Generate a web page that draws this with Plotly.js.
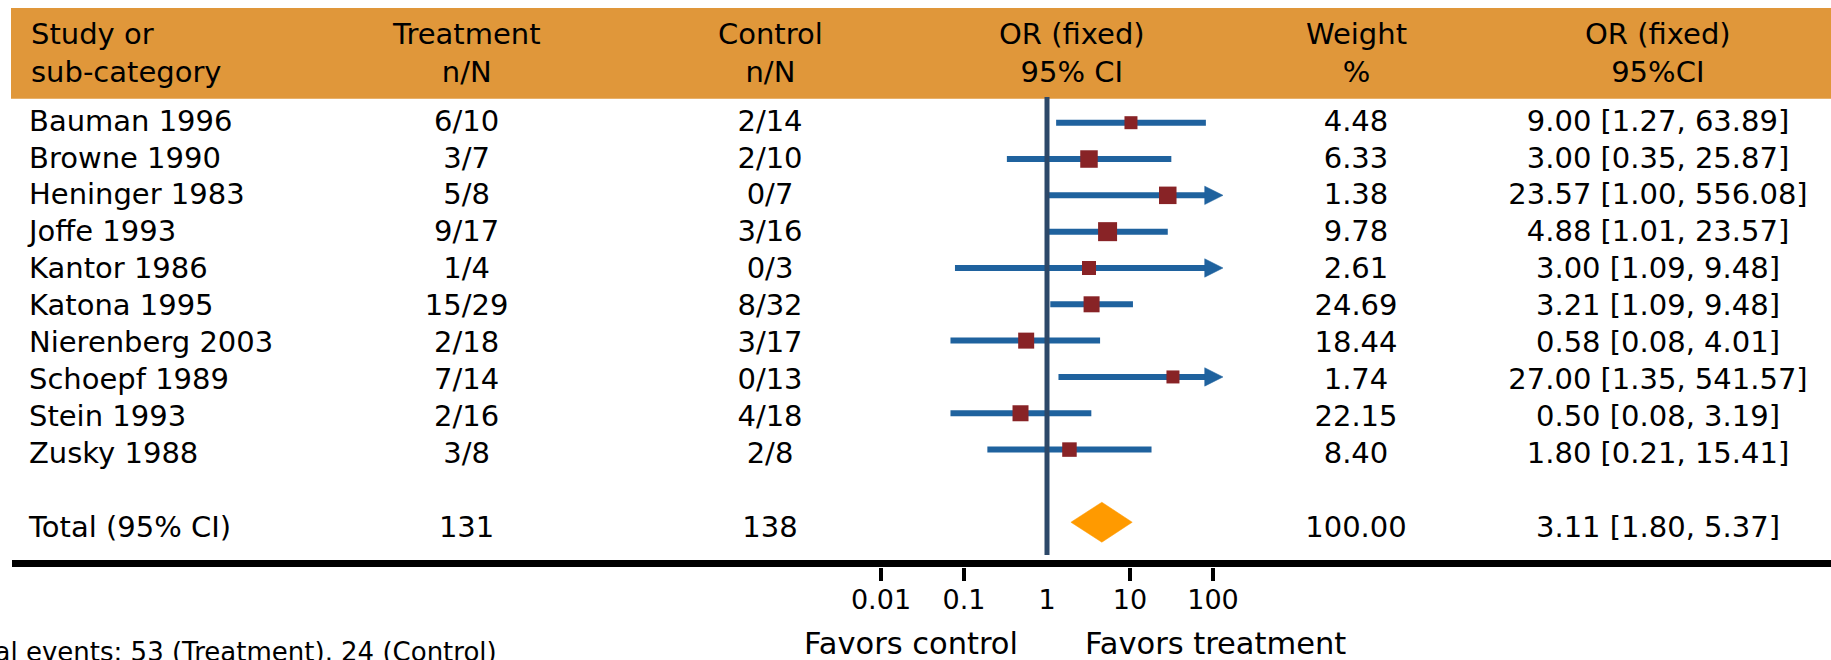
<!DOCTYPE html>
<html><head><meta charset="utf-8">
<script src="https://cdn.plot.ly/plotly-3.0.1.min.js"></script>
<style>html,body{margin:0;padding:0;background:#fff;overflow:hidden}#chart{width:1831px;height:660px}</style>
</head><body><div id="chart"></div>
<script>
// ---------------- data ----------------
const studies = ['Bauman 1996','Browne 1990','Heninger 1983','Joffe 1993','Kantor 1986','Katona 1995','Nierenberg 2003','Schoepf 1989','Stein 1993','Zusky 1988'];
const treatEvents = [6,3,5,9,1,15,2,7,2,3];
const treatTotal  = [10,7,8,17,4,29,18,14,16,8];
const ctrlEvents  = [2,2,0,3,0,8,3,0,4,2];
const ctrlTotal   = [14,10,7,16,3,32,17,13,18,8];
const weights     = [4.48,6.33,1.38,9.78,2.61,24.69,18.44,1.74,22.15,8.40];
const oddsRatio   = [9.00,3.00,23.57,4.88,3.00,3.21,0.58,27.00,0.50,1.80];
const ciLower     = [1.27,0.35,1.00,1.01,1.09,1.09,0.08,1.35,0.08,0.21];
const ciUpper     = [63.89,25.87,556.08,23.57,9.48,9.48,4.01,541.57,3.19,15.41];
// whiskers as drawn in the figure (Kantor's drawn interval is wider than printed)
const drawnLower  = [1.27,0.35,1.00,1.01,0.09,1.09,0.08,1.35,0.08,0.21];
const drawnUpper  = [63.89,25.87,556.08,23.57,150,9.48,4.01,541.57,3.19,15.41];
const totalWeight = 100.00;
const totalOR = 3.11, totalLower = 1.80, totalUpper = 5.37;
// diamond as drawn
const diamondLower = 1.87, diamondMid = 4.2, diamondUpper = 9.3;
const noEffect = 1;
const tickValues = [0.01, 0.1, 1, 10, 100];
const tickLabels = ['0.01', '0.1', '1', '10', '100'];
const tickMarkValues = [0.01, 0.1, 10, 100];
const axisMax = 100;   // whiskers beyond this are cut with an arrow

// ---------------- styles / layout constants ----------------
const W = 1831, H = 660;
const FONT = 'DejaVu Sans';
const squareSize = [13,17.5,17.5,19,14,16,16,13,16,14.5];
const colX = {study: 29, treat: 466.6, ctrl: 770, forest: 1072, weight: 1356, orci: 1658};
const textRow0 = 123.3, textPitch = 36.97;
const markRow0 = 122.7, markPitch = 36.32;
const totalRow = 11;
const refLinePad = [0.71, 0.9];
const C_LINE = '#1F629E', C_SQ = '#882326', C_V = '#2C4869', C_DIA = '#FF9A00', C_HEAD = '#E0973A';

const rows = studies.map((_, i) => i);
const fmt = v => v.toFixed(2);
const sum = a => a.reduce((s, v) => s + v, 0);

// ---------------- table text traces ----------------
function textTrace(xpos, texts, ys, pos) {
  return {type: 'scatter', mode: 'text', xaxis: 'x2', yaxis: 'y',
    x: ys.map(() => xpos), y: ys, text: texts, textposition: pos || 'middle center',
    textfont: {family: FONT, size: 29, color: '#000'}, hoverinfo: 'skip', showlegend: false, cliponaxis: false};
}
const allRows = rows.concat([totalRow]);
const traces = [
  textTrace(colX.study, studies.concat(['Total (95% CI)']), allRows, 'middle right'),
  textTrace(colX.treat, studies.map((_, i) => treatEvents[i] + '/' + treatTotal[i]).concat([String(sum(treatTotal))]), allRows),
  textTrace(colX.ctrl, studies.map((_, i) => ctrlEvents[i] + '/' + ctrlTotal[i]).concat([String(sum(ctrlTotal))]), allRows),
  textTrace(colX.weight, weights.map(fmt).concat([fmt(totalWeight)]), allRows),
  textTrace(colX.orci, studies.map((_, i) => fmt(oddsRatio[i]) + ' [' + fmt(ciLower[i]) + ', ' + fmt(ciUpper[i]) + ']')
      .concat([fmt(totalOR) + ' [' + fmt(totalLower) + ', ' + fmt(totalUpper) + ']']), allRows)
];

// ---------------- forest ----------------
const pxPerDecade = 88, onePx = 1047;
const arrowLenPx = 18.3, arrowHalfPx = 9.2;
const arrowBase = axisMax / Math.pow(10, arrowLenPx / pxPerDecade);
const lx = [], ly = [], ax = [], ay = [];
const ah = arrowHalfPx / markPitch;
rows.forEach(i => {
  const clipped = drawnUpper[i] > axisMax;
  lx.push(drawnLower[i], clipped ? arrowBase * 1.03 : drawnUpper[i], null);
  ly.push(i, i, null);
  if (clipped) {
    ax.push(arrowBase, axisMax, arrowBase, arrowBase, null);
    ay.push(i - ah, i, i + ah, i - ah, null);
  }
});
// reference line at OR = 1, drawn on the labelled axis (x3)
traces.push({type: 'scatter', mode: 'lines', xaxis: 'x3', yaxis: 'y2',
  x: [noEffect, noEffect], y: [rows[0] - refLinePad[0], totalRow + refLinePad[1]],
  line: {color: C_V, width: 5}, hoverinfo: 'skip', showlegend: false, cliponaxis: false});
traces.push({type: 'scatter', mode: 'lines', xaxis: 'x', yaxis: 'y2', x: lx, y: ly,
  line: {color: C_LINE, width: 6}, hoverinfo: 'skip', showlegend: false, connectgaps: false});
traces.push({type: 'scatter', mode: 'lines', xaxis: 'x', yaxis: 'y2', x: ax, y: ay, fill: 'toself',
  fillcolor: C_LINE, line: {color: C_LINE, width: 0.5}, hoverinfo: 'skip', showlegend: false});
traces.push({type: 'scatter', mode: 'markers', xaxis: 'x', yaxis: 'y2', x: oddsRatio, y: rows,
  marker: {symbol: 'square', size: squareSize, color: C_SQ, opacity: 1, line: {width: 0}},
  hoverinfo: 'skip', showlegend: false});
const dh = 20 / markPitch;
traces.push({type: 'scatter', mode: 'lines', xaxis: 'x', yaxis: 'y2',
  x: [diamondLower, diamondMid, diamondUpper, diamondMid, diamondLower],
  y: [totalRow, totalRow - dh, totalRow, totalRow + dh, totalRow], fill: 'toself',
  fillcolor: C_DIA, line: {color: C_DIA, width: 0.5}, hoverinfo: 'skip', showlegend: false});

// ---------------- layout ----------------
const yr = (r0, p) => [(H - r0) / p, -r0 / p];
const axisPx = 563.5;
const axisY = 1 - axisPx / H;
const hid = {visible: false, showgrid: false, zeroline: false, fixedrange: true};
const tickPxPerDecade = 83;
function head(x, text, anchor) {
  return {xref: 'paper', yref: 'paper', x: x / W, y: 1 - 52.5 / H, xanchor: anchor || 'center', yanchor: 'middle',
    align: anchor === 'left' ? 'left' : 'center', text: text, showarrow: false,
    font: {family: FONT, size: 29, color: '#000'}};
}
const layout = {
  width: W, height: H, margin: {l: 0, r: 0, t: 0, b: 0, pad: 0},
  paper_bgcolor: '#fff', plot_bgcolor: 'rgba(0,0,0,0)', showlegend: false,
  xaxis: Object.assign({}, hid, {type: 'log', domain: [0, 1], anchor: 'y2',
    range: [-onePx / pxPerDecade, (W - onePx) / pxPerDecade]}),
  xaxis2: Object.assign({}, hid, {type: 'linear', domain: [0, 1], range: [0, W], anchor: 'y', overlaying: 'x'}),
  xaxis3: {type: 'log', overlaying: 'x', anchor: 'free', position: axisY, domain: [0, 1],
    range: [-onePx / tickPxPerDecade, (W - onePx) / tickPxPerDecade],
    showline: true, linewidth: 7, linecolor: 'rgba(0,0,0,0)', ticks: '',
    tickmode: 'array', tickvals: tickValues, ticktext: tickLabels, ticklabelstandoff: 9,
    tickfont: {family: FONT, size: 27, color: '#000'},
    minor: {tickmode: 'array', tickvals: tickMarkValues, ticks: 'outside', ticklen: 13, tickwidth: 4,
      tickcolor: '#000', showgrid: false},
    showgrid: false, zeroline: false, fixedrange: true, automargin: false},
  yaxis: Object.assign({}, hid, {range: yr(textRow0, textPitch), anchor: 'x2'}),
  yaxis2: Object.assign({}, hid, {range: yr(markRow0, markPitch), anchor: 'x', overlaying: 'y'}),
  shapes: [
    {type: 'rect', xref: 'paper', yref: 'paper', x0: 11 / W, x1: 1, y0: 1 - 98.7 / H, y1: 1 - 8 / H,
      fillcolor: C_HEAD, line: {width: 0}, layer: 'below'},
    {type: 'line', xref: 'paper', yref: 'paper', x0: 12 / W, x1: 1, y0: axisY, y1: axisY,
      line: {color: '#000', width: 7}, layer: 'above'}
  ],
  annotations: [
    head(colX.study, 'Study or<br>sub-category', 'left'),
    head(colX.treat, 'Treatment<br>n/N'),
    head(colX.ctrl, 'Control<br>n/N'),
    head(colX.forest, 'OR (fixed)<br>95% CI'),
    head(colX.weight, 'Weight<br>%'),
    head(colX.orci, 'OR (fixed)<br>95%CI'),
    {xref: 'paper', yref: 'paper', x: 1020 / W, y: 1 - 643.5 / H, xanchor: 'right', yanchor: 'middle',
      text: 'Favors control', showarrow: false, font: {family: FONT, size: 30.5, color: '#000'}},
    {xref: 'paper', yref: 'paper', x: 1083 / W, y: 1 - 643.5 / H, xanchor: 'left', yanchor: 'middle',
      text: 'Favors treatment', showarrow: false, font: {family: FONT, size: 30.5, color: '#000'}},
    {xref: 'paper', yref: 'paper', x: 499 / W, y: 1 - 652 / H, xanchor: 'right', yanchor: 'middle',
      text: 'Total events: ' + sum(treatEvents) + ' (Treatment), ' + sum(ctrlEvents) + ' (Control)',
      showarrow: false, font: {family: FONT, size: 26, color: '#000'}}
  ]
};
Plotly.newPlot('chart', traces, layout, {staticPlot: true, displayModeBar: false});
</script></body></html>
